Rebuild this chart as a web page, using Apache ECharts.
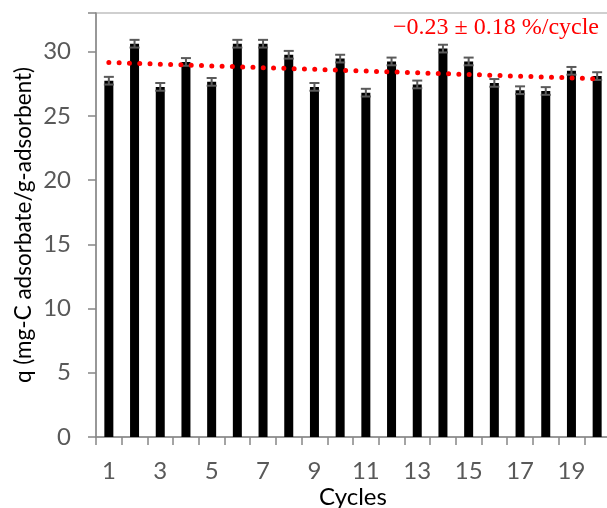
<!DOCTYPE html>
<html>
<head>
<meta charset="utf-8">
<script src="https://cdn.jsdelivr.net/npm/echarts@6/dist/echarts.min.js"></script>
<style>
html,body{margin:0;padding:0;background:#fff;}
#chart{width:607px;height:508px;}
</style>
</head>
<body>
<div id="chart"></div>
<script>
var cycles = ['1','2','3','4','5','6','7','8','9','10','11','12','13','14','15','16','17','18','19','20'];
var qValues = [27.73, 30.61, 27.25, 29.19, 27.64, 30.61, 30.61, 29.75, 27.25, 29.45, 26.80, 29.23, 27.44, 30.23, 29.23, 27.56, 26.99, 26.93, 28.50, 28.09];
var qErrors = [0.30, 0.30, 0.30, 0.30, 0.30, 0.30, 0.30, 0.30, 0.30, 0.30, 0.30, 0.30, 0.30, 0.30, 0.30, 0.30, 0.30, 0.30, 0.30, 0.30];
var trendStart = 29.15;
var trendEnd = 27.88;
var yTicks = [0, 5, 10, 15, 20, 25, 30];
var annotation = '\u22120.23 \u00B1 0.18 %/cycle';

var errData = qValues.map(function (v, i) { return [i, v - qErrors[i], v + qErrors[i]]; });
var trendData = [[0, trendStart], [cycles.length - 1, trendEnd]];

var chart = echarts.init(document.getElementById('chart'), null, {renderer: 'canvas'});
var axisGrey = '#868686';
var labelGrey = '#595959';
var option = {
  animation: false,
  backgroundColor: '#ffffff',
  grid: {
    left: 96, top: 13, right: -3, bottom: 71,
    outerBoundsMode: 'none',
    show: true, borderColor: '#c0c0c0', borderWidth: 1.5, containLabel: false
  },
  xAxis: {
    type: 'category',
    data: cycles,
    boundaryGap: true,
    name: 'Cycles',
    nameLocation: 'middle',
    nameGap: 48,
    nameMoveOverlap: false,
    nameTextStyle: {fontFamily: 'Lato', fontSize: 24, color: '#000'},
    axisLine: {lineStyle: {color: axisGrey, width: 1.5}},
    axisTick: {show: true, length: 8, alignWithLabel: false, interval: 0, lineStyle: {color: axisGrey, width: 1.5}},
    axisLabel: {interval: 1, margin: 22, fontFamily: 'Lato', fontSize: 24, color: labelGrey},
    splitLine: {show: false}
  },
  yAxis: {
    type: 'value',
    min: 0, max: 33, interval: 5,
    name: 'q (mg-C adsorbate/g-adsorbent)',
    nameLocation: 'middle',
    nameGap: 61,
    nameMoveOverlap: false,
    nameTextStyle: {fontFamily: 'Lato', fontSize: 22.5, color: '#000'},
    axisLine: {show: true, lineStyle: {color: axisGrey, width: 1.5}},
    axisTick: {show: true, length: 8, lineStyle: {color: axisGrey, width: 1.5}},
    axisLabel: {
      margin: 25, fontFamily: 'Lato', fontSize: 24, color: labelGrey,
      formatter: function (v) { return yTicks.indexOf(v) >= 0 ? String(v) : ''; }
    },
    splitLine: {show: false}
  },
  series: [
    {
      type: 'bar',
      data: qValues,
      barWidth: 9,
      itemStyle: {color: '#000000'},
      z: 2
    },
    {
      type: 'custom',
      data: errData,
      z: 3,
      renderItem: function (params, api) {
        var x = api.value(0);
        var lo = api.coord([x, api.value(1)]);
        var hi = api.coord([x, api.value(2)]);
        var hw = 5;
        var st = {stroke: '#5a5a5a', lineWidth: 2};
        return {
          type: 'group',
          children: [
            {type: 'line', shape: {x1: lo[0], y1: lo[1], x2: hi[0], y2: hi[1]}, style: st},
            {type: 'line', shape: {x1: lo[0] - hw, y1: lo[1], x2: lo[0] + hw, y2: lo[1]}, style: st},
            {type: 'line', shape: {x1: hi[0] - hw, y1: hi[1], x2: hi[0] + hw, y2: hi[1]}, style: st}
          ]
        };
      }
    },
    {
      type: 'line',
      data: trendData,
      symbol: 'none',
      z: 4,
      lineStyle: {color: '#ff0000', width: 5, type: [0, 10.3], cap: 'round'}
    }
  ],
  graphic: [
    {
      type: 'text',
      right: 8,
      top: 16,
      style: {
        text: annotation,
        fontFamily: 'Liberation Serif',
        fontSize: 24,
        fill: '#ff0000'
      }
    }
  ]
};
chart.setOption(option);
</script>
</body>
</html>
